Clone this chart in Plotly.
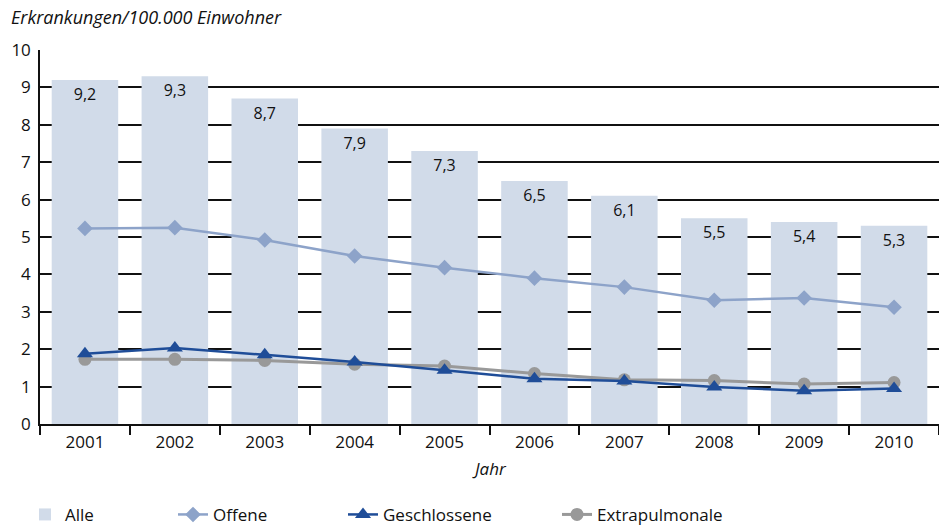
import plotly.graph_objects as go

years = ["2001", "2002", "2003", "2004", "2005", "2006", "2007", "2008", "2009", "2010"]
alle = [9.2, 9.3, 8.7, 7.9, 7.3, 6.5, 6.1, 5.5, 5.4, 5.3]
alle_labels = ["9,2", "9,3", "8,7", "7,9", "7,3", "6,5", "6,1", "5,5", "5,4", "5,3"]
offene = [5.23, 5.25, 4.92, 4.49, 4.18, 3.9, 3.66, 3.31, 3.37, 3.12]
geschlossene = [1.88, 2.03, 1.85, 1.66, 1.44, 1.21, 1.15, 0.99, 0.89, 0.95]
extrapulmonale = [1.73, 1.73, 1.7, 1.6, 1.55, 1.35, 1.18, 1.16, 1.07, 1.11]

FONT = "Open Sans"
FS = 17

fig = go.Figure()
fig.add_trace(go.Bar(
    x=years, y=alle, name="Alle", text=alle_labels, legend="legend",
    textposition="inside", insidetextanchor="end", textangle=0,
    textfont=dict(color="#111111", size=16, family=FONT),
    marker=dict(color="#d1dbe9", line=dict(width=0)),
    width=0.74,
))
fig.add_trace(go.Scatter(
    x=years, y=offene, name="Offene", mode="lines+markers", legend="legend2",
    line=dict(color="#8da3c9", width=2.5),
    marker=dict(symbol="diamond", size=12, color="#8da3c9"),
))
fig.add_trace(go.Scatter(
    x=years, y=extrapulmonale, name="Extrapulmonale", mode="lines+markers", legend="legend4",
    line=dict(color="#999999", width=3),
    marker=dict(symbol="circle", size=13, color="#999999"),
))
fig.add_trace(go.Scatter(
    x=years, y=geschlossene, name="Geschlossene", mode="lines+markers", legend="legend3",
    line=dict(color="#1f4d98", width=2.5),
    marker=dict(symbol="triangle-up", size=14, color="#1f4d98"),
))

PLOT_W = 939 - 40
def leg(px_text_start):
    return dict(orientation="h", x=(px_text_start - 40 - 40) / PLOT_W, xanchor="left",
                y=-0.243, yanchor="middle", font=dict(size=FS, family=FONT),
                bgcolor="rgba(0,0,0,0)")

fig.update_layout(
    width=939, height=527,
    margin=dict(l=40, r=0, t=50, b=103, autoexpand=False),
    plot_bgcolor="white", paper_bgcolor="white",
    font=dict(family=FONT, size=FS, color="#111111"),
    showlegend=True,
    legend=leg(65), legend2=leg(213), legend3=leg(383), legend4=leg(597),
    annotations=[
        dict(text="<i>Erkrankungen/100.000 Einwohner</i>", xref="paper", yref="paper",
             x=-0.034, y=(424 - 17) / 374, xanchor="left", yanchor="middle", showarrow=False,
             font=dict(size=18, family=FONT)),
        dict(text="<i>Jahr</i>", xref="paper", yref="paper",
             x=0.5, y=-(468 - 424) / 374, xanchor="center", yanchor="middle", showarrow=False,
             font=dict(size=FS, family=FONT)),
    ],
)
fig.update_yaxes(
    range=[0, 10], dtick=1, showgrid=True, gridcolor="#111111", gridwidth=1.5,
    showline=True, linecolor="#111111", linewidth=1.5, ticks="",
    tickfont=dict(size=FS), zeroline=False, automargin=False, ticklabelstandoff=4,
)
fig.update_xaxes(
    range=[-0.5, 9.5],
    showline=True, linecolor="#111111", linewidth=1.5, ticks="outside",
    tickson="boundaries", ticklen=9, tickwidth=1.5, tickcolor="#111111",
    tickfont=dict(size=FS), showgrid=False, automargin=False, ticklabelstandoff=2,
)
post = (
    "document.body.style.margin='0';"
    "document.body.style.padding='0';"
    "document.body.style.overflow='hidden';"
)
fig.write_html("out.html", post_script=post, config={"displayModeBar": False})
